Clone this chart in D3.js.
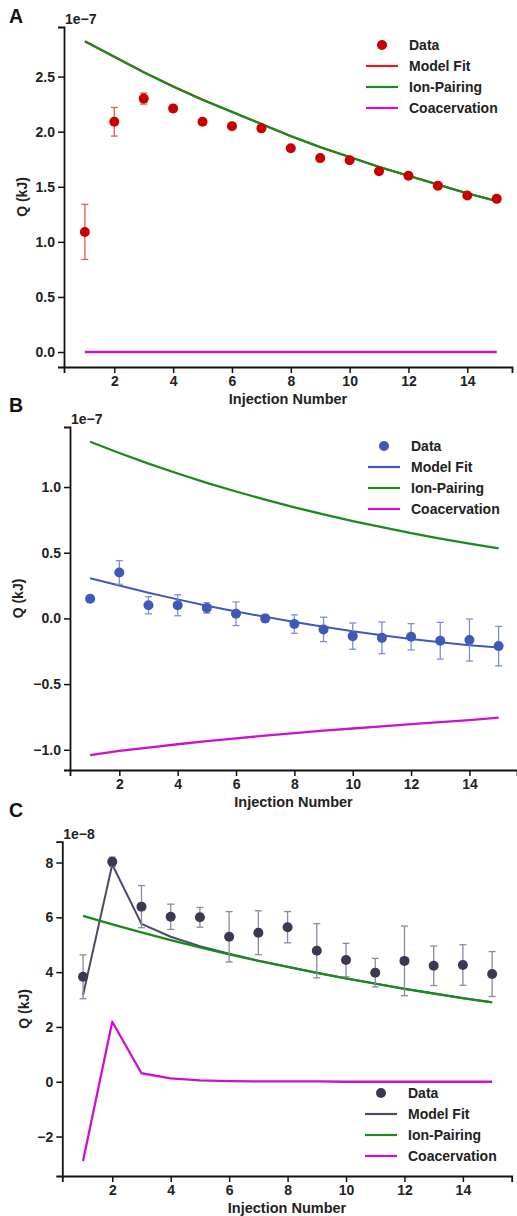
<!DOCTYPE html>
<html>
<head>
<meta charset="utf-8">
<script src="https://cdn.jsdelivr.net/npm/d3@7"></script>
<style>
  body { margin: 0; background: #fff; }
  svg { display: block; font-family: "Liberation Sans", Arial, sans-serif; font-weight: bold; }
</style>
</head>
<body>
<svg id="chart" width="517" height="1216"></svg>
<script>
// injection numbers, same for all 3 panels
const injections = [1, 2, 3, 4, 5, 6, 7, 8, 9, 10, 11, 12, 13, 14, 15];

// panel A (x 1e-7)
const dataA = [1.09, 2.09, 2.30, 2.21, 2.09, 2.05, 2.03, 1.85, 1.76, 1.74, 1.64, 1.60, 1.51, 1.42, 1.39];
const errA = [0.25, 0.13, 0.05, 0.03, 0.02, 0.02, 0.02, 0.02, 0.02, 0.02, 0.02, 0.02, 0.02, 0.02, 0.02];
const fitA = [2.82, 2.68, 2.54, 2.41, 2.29, 2.18, 2.07, 1.96, 1.86, 1.77, 1.68, 1.60, 1.52, 1.44, 1.37];
const ionA = [2.82, 2.68, 2.54, 2.41, 2.29, 2.18, 2.07, 1.96, 1.86, 1.77, 1.68, 1.60, 1.52, 1.44, 1.37];
const coacA = [0, 0, 0, 0, 0, 0, 0, 0, 0, 0, 0, 0, 0, 0, 0];
const ticksA = [0.0, 0.5, 1.0, 1.5, 2.0, 2.5];

// panel B (x 1e-7)
const dataB = [0.15, 0.35, 0.10, 0.10, 0.08, 0.035, 0.0, -0.043, -0.084, -0.135, -0.148, -0.14, -0.17, -0.165, -0.211];
const errB = [0.025, 0.09, 0.065, 0.08, 0.04, 0.09, 0.03, 0.07, 0.093, 0.10, 0.12, 0.10, 0.14, 0.16, 0.15];
const fitB = [0.305, 0.25, 0.195, 0.145, 0.097, 0.052, 0.012, -0.027, -0.063, -0.097, -0.128, -0.156, -0.182, -0.205, -0.222];
const ionB = [1.345, 1.259, 1.178, 1.103, 1.032, 0.966, 0.904, 0.846, 0.792, 0.741, 0.694, 0.649, 0.608, 0.569, 0.533];
const coacB = [-1.04, -1.009, -0.983, -0.958, -0.935, -0.914, -0.892, -0.873, -0.855, -0.838, -0.822, -0.805, -0.79, -0.774, -0.755];
const ticksB = [-1.0, -0.5, 0.0, 0.5, 1.0];

// panel C (x 1e-8)
const dataC = [3.83, 8.03, 6.39, 6.02, 6.0, 5.29, 5.44, 5.64, 4.78, 4.44, 3.98, 4.41, 4.23, 4.26, 3.93];
const errC = [0.8, 0.17, 0.77, 0.46, 0.36, 0.92, 0.8, 0.57, 0.99, 0.61, 0.52, 1.27, 0.72, 0.74, 0.82];
const fitC = [3.16, 7.93, 5.76, 5.29, 4.95, 4.67, 4.42, 4.20, 3.98, 3.77, 3.58, 3.39, 3.22, 3.05, 2.90];
const ionC = [6.05, 5.74, 5.45, 5.17, 4.90, 4.65, 4.41, 4.19, 3.97, 3.77, 3.58, 3.39, 3.22, 3.05, 2.90];
const coacC = [-2.89, 2.19, 0.31, 0.12, 0.05, 0.02, 0.01, 0.01, 0.01, 0, 0, 0, 0, 0, 0];
const ticksC = [-2, 0, 2, 4, 6, 8];

const xTicks = [2, 4, 6, 8, 10, 12, 14];
const legendLabels = ["Data", "Model Fit", "Ion-Pairing", "Coacervation"];

const green = "#1b8a1b";
const magenta = "#cc11cc";

const svg = d3.select("#chart");

function drawPanel(p) {
  const g = svg.append("g");

  const x = d3.scaleLinear().domain(p.xDomain).range(p.xRange);
  const y = d3.scaleLinear().domain(p.yDomain).range(p.yRange);

  // axes
  const xAxis = g.append("g")
    .attr("transform", `translate(0,${p.yRange[0]})`)
    .call(d3.axisBottom(x).tickValues(xTicks).tickSizeOuter(0).tickSize(6).tickPadding(3));
  const yAxis = g.append("g")
    .attr("transform", `translate(${p.xRange[0]},0)`)
    .call(d3.axisLeft(y).tickValues(p.yTicks).tickFormat(d3.format(p.fmt)).tickSizeOuter(0).tickSize(6).tickPadding(3));

  [xAxis, yAxis].forEach(a => {
    a.select(".domain").attr("stroke", "#111").attr("stroke-width", 1.8);
    a.selectAll(".tick line").attr("stroke", "#111").attr("stroke-width", 1.5);
    a.selectAll(".tick text").attr("fill", "#222").style("font-size", "14px").style("font-weight", "bold");
  });

  // labels
  g.append("text")
    .attr("x", (p.xRange[0] + p.xRange[1]) / 2)
    .attr("y", p.yRange[0] + 37)
    .attr("text-anchor", "middle")
    .style("font-size", "14.5px")
    .attr("fill", "#222")
    .text("Injection Number");

  g.append("text")
    .attr("transform", `translate(${p.yLabelX},${(p.yRange[0] + p.yRange[1]) / 2}) rotate(-90)`)
    .attr("text-anchor", "middle")
    .style("font-size", "14px")
    .attr("fill", "#222")
    .text("Q (kJ)");

  g.append("text")
    .attr("x", p.xRange[0] + 1)
    .attr("y", p.yRange[1] - 3)
    .style("font-size", "14px")
    .attr("fill", "#222")
    .text(p.expo);

  g.append("text")
    .attr("x", 9)
    .attr("y", p.letterY)
    .style("font-size", "19.5px")
    .attr("fill", "#111")
    .text(p.letter);

  // lines (model fit a bit thinner so it hides under ion-pairing when equal)
  const line = d3.line().x((d, i) => x(injections[i])).y(d => y(d));
  [[p.fit, p.fitColor, 2], [p.ion, green, 2.3], [p.coac, magenta, 2.3]].forEach(([vals, col, w]) => {
    g.append("path")
      .datum(vals)
      .attr("fill", "none")
      .attr("stroke", col)
      .attr("stroke-width", w)
      .attr("stroke-linejoin", "round")
      .attr("d", line);
  });

  // error bars + points
  const pts = injections.map((n, i) => ({ n, v: p.data[i], e: p.err[i] }));
  const eb = g.append("g").attr("stroke", p.errColor).attr("stroke-width", 1.3);
  eb.selectAll("line.v").data(pts).join("line")
    .attr("x1", d => x(d.n)).attr("x2", d => x(d.n))
    .attr("y1", d => y(d.v - d.e)).attr("y2", d => y(d.v + d.e));
  eb.selectAll("line.t").data(pts).join("line")
    .attr("x1", d => x(d.n) - 3.5).attr("x2", d => x(d.n) + 3.5)
    .attr("y1", d => y(d.v + d.e)).attr("y2", d => y(d.v + d.e));
  eb.selectAll("line.b").data(pts).join("line")
    .attr("x1", d => x(d.n) - 3.5).attr("x2", d => x(d.n) + 3.5)
    .attr("y1", d => y(d.v - d.e)).attr("y2", d => y(d.v - d.e));

  g.selectAll("circle").data(pts).join("circle")
    .attr("cx", d => x(d.n))
    .attr("cy", d => y(d.v))
    .attr("r", 5)
    .attr("fill", p.dotColor);

  // legend
  const lg = g.append("g").attr("transform", `translate(${p.legend[0]},${p.legend[1]})`);
  const colors = [p.dotColor, p.fitColor, green, magenta];
  legendLabels.forEach((lab, i) => {
    const yy = i * 21;
    if (i === 0) {
      lg.append("circle").attr("cx", 16).attr("cy", yy).attr("r", 5).attr("fill", colors[i]);
    } else {
      lg.append("line").attr("x1", 0).attr("x2", 32).attr("y1", yy).attr("y2", yy)
        .attr("stroke", colors[i]).attr("stroke-width", 2.2);
    }
    lg.append("text")
      .attr("x", 43)
      .attr("y", yy + 5)
      .style("font-size", "14px")
      .attr("fill", "#222")
      .text(lab);
  });
}

drawPanel({
  letter: "A", letterY: 23, expo: "1e\u22127",
  xDomain: [0.29, 15.52], xRange: [64, 512],
  yDomain: [-0.136, 2.95], yRange: [367, 27],
  yTicks: ticksA, fmt: ".1f", yLabelX: 27,
  data: dataA, err: errA, fit: fitA, ion: ionA, coac: coacA,
  dotColor: "#c80000", errColor: "#e05a5a", fitColor: "#d62222",
  legend: [366, 45]
});

drawPanel({
  letter: "B", letterY: 412, expo: "1e\u22127",
  xDomain: [0.31, 15.63], xRange: [70, 517],
  yDomain: [-1.154, 1.457], yRange: [770, 427],
  yTicks: ticksB, fmt: ".1f", yLabelX: 23,
  data: dataB, err: errB, fit: fitB, ion: ionB, coac: coacB,
  dotColor: "#4059b8", errColor: "#7d90d4", fitColor: "#4059b8",
  legend: [368, 446]
});

drawPanel({
  letter: "C", letterY: 817, expo: "1e\u22128",
  xDomain: [0.29, 15.67], xRange: [62.3, 511.7],
  yDomain: [-3.44, 8.76], yRange: [1176, 841.7],
  yTicks: ticksC, fmt: "d", yLabelX: 29,
  data: dataC, err: errC, fit: fitC, ion: ionC, coac: coacC,
  dotColor: "#393954", errColor: "#8a8aa2", fitColor: "#4a4a68",
  legend: [365, 1093]
});
</script>
</body>
</html>
